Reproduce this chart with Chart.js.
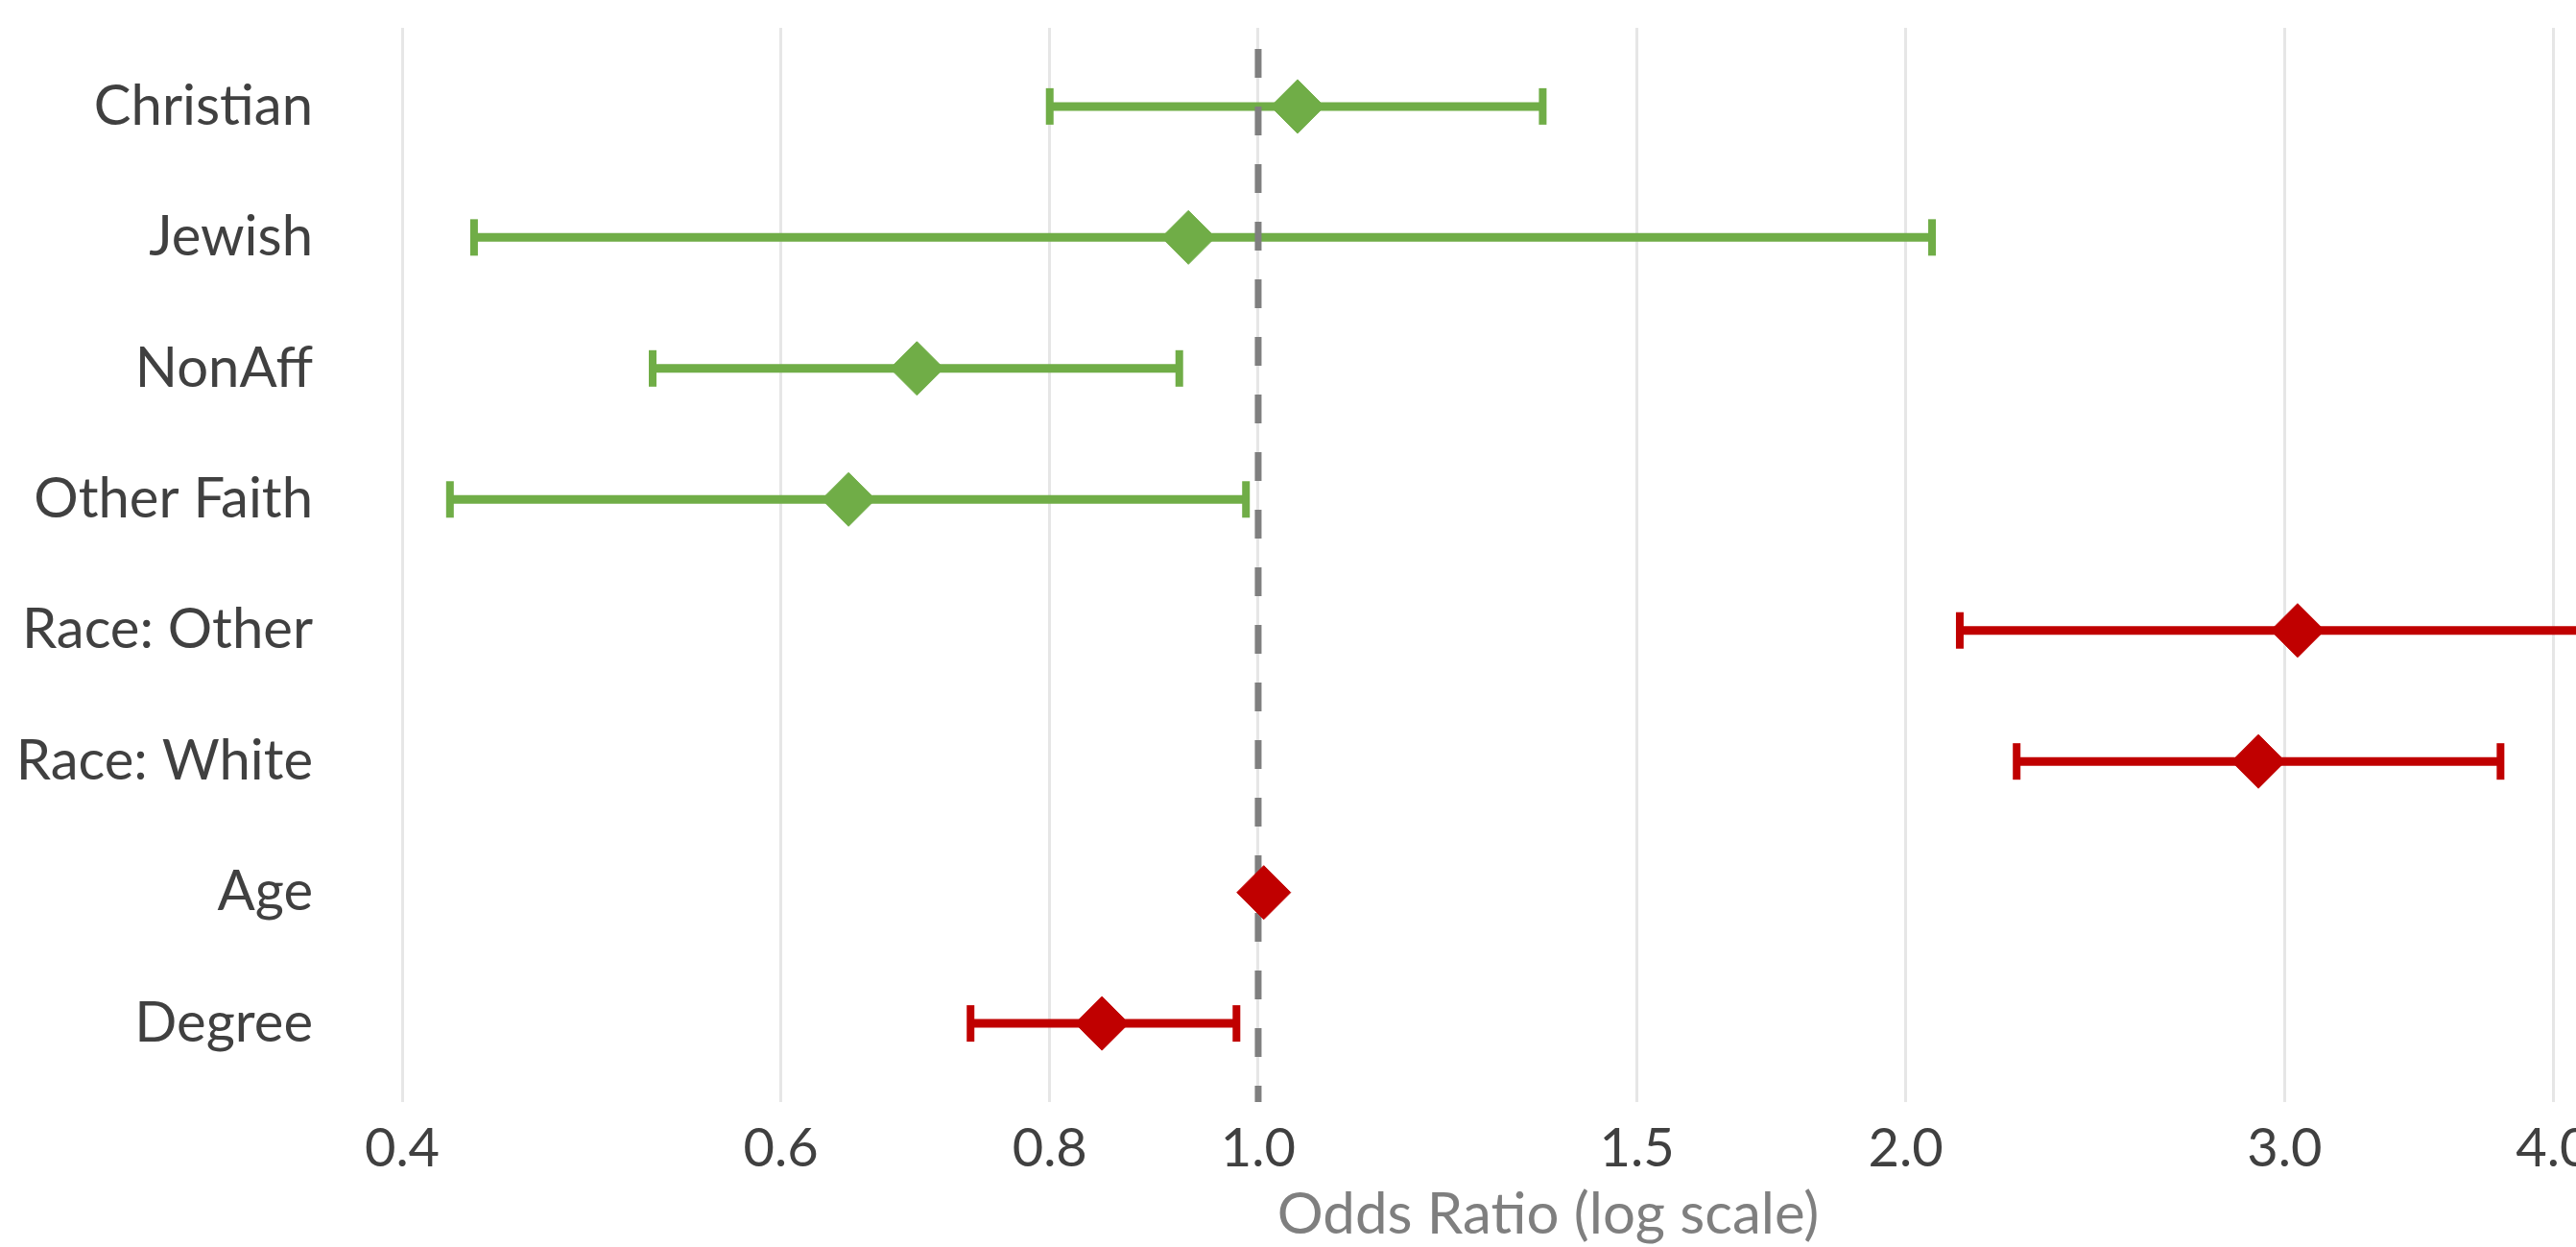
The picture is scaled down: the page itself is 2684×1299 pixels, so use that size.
<!DOCTYPE html>
<html>
<head>
<meta charset="utf-8">
<script src="https://cdn.jsdelivr.net/npm/chart.js@4/dist/chart.umd.min.js"></script>
<style>
  html, body { margin: 0; padding: 0; background: #ffffff; overflow: hidden; }
  #wrap { width: 2684px; height: 1299px; overflow: hidden; position: relative; }
  canvas { display: block; }
</style>
</head>
<body>
<div id="wrap"><canvas id="c" width="2860" height="1299" style="width:2860px;height:1299px"></canvas></div>
<script>
// ---- data ----
const categories = ['Christian', 'Jewish', 'NonAff', 'Other Faith', 'Race: Other', 'Race: White', 'Age', 'Degree'];
const oddsRatio  = [1.043, 0.928, 0.694, 0.645, 3.042, 2.917, 1.006, 0.846];
const ciLower    = [0.800, 0.432, 0.523, 0.421, 2.119, 2.252, 1.003, 0.735];
const ciUpper    = [1.356, 2.057, 0.919, 0.987, 4.370, 3.780, 1.009, 0.977];
const groups     = ['religion', 'religion', 'religion', 'religion', 'control', 'control', 'control', 'control'];
const xTicks     = [0.4, 0.6, 0.8, 1.0, 1.5, 2.0, 3.0, 4.0];
const referenceValue = 1.0;

// ---- styles ----
const groupColor = { religion: '#70AD47', control: '#C00000' };
const X_MIN = 0.4, X_MAX = 4.65, Y_MIN = -0.6, Y_MAX = 7.6;
const FONT = 'Lato';

const colorOf = i => groupColor[groups[i]];

const ciDatasets = categories.map((c, i) => ({
  type: 'line',
  label: c + ' CI',
  data: [{ x: ciLower[i], y: i }, { x: ciUpper[i], y: i }],
  borderColor: colorOf(i),
  borderWidth: 9,
  tension: 0,
  fill: false,
  pointStyle: 'line',
  pointRotation: 90,
  pointRadius: 19,
  pointBorderWidth: 8,
  pointBorderColor: colorOf(i),
  pointBackgroundColor: colorOf(i),
  order: 3
}));

const refLine = {
  type: 'line',
  label: 'reference',
  data: [{ x: referenceValue, y: Y_MIN }, { x: referenceValue, y: Y_MAX }],
  borderColor: '#7f7f7f',
  borderWidth: 7,
  borderDash: [30, 30],
  borderDashOffset: 38,
  pointRadius: 0,
  fill: false,
  order: 2
};

const diamonds = {
  type: 'line',
  label: 'Odds ratio',
  data: categories.map((c, i) => ({ x: oddsRatio[i], y: i })),
  showLine: false,
  pointStyle: 'rectRot',
  pointRadius: 28,
  pointBorderWidth: 1,
  pointBackgroundColor: categories.map((c, i) => colorOf(i)),
  pointBorderColor: categories.map((c, i) => colorOf(i)),
  order: 1
};

function draw() {
  new Chart(document.getElementById('c'), {
    data: { datasets: [...ciDatasets, refLine, diamonds] },
    options: {
      responsive: false,
      animation: false,
      devicePixelRatio: 1,
      layout: { padding: { top: 29, right: 53, bottom: 0, left: 0 } },
      plugins: { legend: { display: false }, tooltip: { enabled: false } },
      scales: {
        x: {
          type: 'logarithmic',
          position: 'bottom',
          min: X_MIN,
          max: X_MAX,
          afterBuildTicks: s => { s.ticks = xTicks.map(v => ({ value: v })); },
          afterFit: s => { s.height = 151; },
          ticks: {
            autoSkip: false,
            maxRotation: 0,
            padding: 15,
            color: '#404040',
            font: { family: FONT, size: 56 },
            callback: v => Number(v).toFixed(1)
          },
          grid: { color: '#e6e6e6', lineWidth: 3, drawTicks: false },
          border: { display: false },
          title: {
            display: true,
            text: 'Odds Ratio (log scale)',
            color: '#7f7f7f',
            font: { family: FONT, size: 60 },
            padding: { top: 0, bottom: -3 }
          }
        },
        y: {
          type: 'linear',
          position: 'left',
          min: Y_MIN,
          max: Y_MAX,
          reverse: true,
          afterBuildTicks: s => { s.ticks = categories.map((c, i) => ({ value: i })); },
          afterFit: s => { s.width = 419; },
          ticks: {
            autoSkip: false,
            padding: 0,
            color: '#404040',
            font: { family: FONT, size: 58, lineHeight: 0.8 },
            callback: v => categories[v]
          },
          grid: { display: false, drawTicks: true, tickLength: 93 },
          border: { display: false }
        }
      }
    }
  });
}

if (document.fonts && document.fonts.load) {
  Promise.all([document.fonts.load('58px Lato'), document.fonts.load('60px Lato')]).then(draw, draw);
} else { draw(); }
</script>
</body>
</html>
